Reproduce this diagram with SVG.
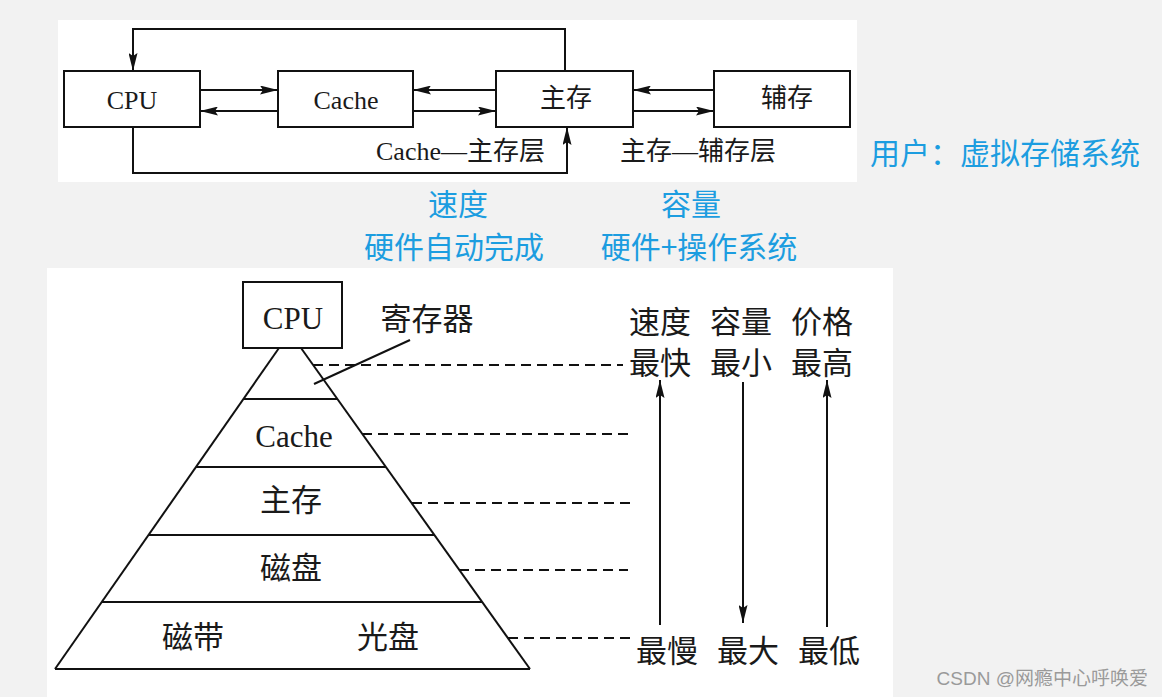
<svg xmlns="http://www.w3.org/2000/svg" width="1162" height="697" viewBox="0 0 1162 697">
<defs>
<marker id="ah" viewBox="0 0 18 9" refX="18" refY="4.5" markerWidth="18" markerHeight="9" markerUnits="userSpaceOnUse" orient="auto">
<path d="M0,0 L18,4.5 L0,9 L3,4.5 z" fill="#111"/>
</marker>
<style>
.box{fill:#fff;stroke:#111;stroke-width:2}
.ln{fill:none;stroke:#111;stroke-width:2}
.dash{fill:none;stroke:#111;stroke-width:2;stroke-dasharray:10 6}
.t26{font-family:"Liberation Serif","Noto Sans CJK SC",serif;font-size:26px;fill:#1a1a1a;dominant-baseline:central;text-anchor:middle}
.t31{font-family:"Liberation Serif","Noto Sans CJK SC",serif;font-size:31px;fill:#1a1a1a;dominant-baseline:central;text-anchor:middle}
.blue{font-family:"Noto Sans CJK SC","Noto Sans",sans-serif;font-size:30px;fill:#1c9de0;dominant-baseline:central;text-anchor:middle}
.wm{font-family:"Liberation Sans","Noto Sans CJK SC",sans-serif;font-size:19px;fill:#9a9a9a;dominant-baseline:central;text-anchor:end}
</style>
</defs>
<rect x="0" y="0" width="1162" height="697" fill="#f2f2f2"/>
<rect x="58" y="20" width="799" height="162" fill="#fff"/>
<rect x="47" y="268" width="846" height="429" fill="#fff"/>

<g id="connectors">
<line class="ln" x1="200" y1="90" x2="278" y2="90" marker-end="url(#ah)"/>
<line class="ln" x1="278" y1="111" x2="200" y2="111" marker-end="url(#ah)"/>
<line class="ln" x1="496" y1="90" x2="413" y2="90" marker-end="url(#ah)"/>
<line class="ln" x1="413" y1="111" x2="496" y2="111" marker-end="url(#ah)"/>
<line class="ln" x1="714" y1="90" x2="633" y2="90" marker-end="url(#ah)"/>
<line class="ln" x1="633" y1="111" x2="714" y2="111" marker-end="url(#ah)"/>
<path class="ln" d="M565,71 V29 H133 V71" marker-end="url(#ah)"/>
<path class="ln" d="M133,127 V173 H567 V127" marker-end="url(#ah)"/>
<line class="dash" x1="313" y1="365" x2="623" y2="365"/>
<line class="dash" x1="362" y1="434" x2="633" y2="434"/>
<line class="dash" x1="412" y1="503" x2="632" y2="503"/>
<line class="dash" x1="459" y1="570" x2="628" y2="570"/>
<line class="dash" x1="508" y1="638" x2="633" y2="638"/>
<line class="ln" x1="410" y1="340" x2="314" y2="384"/>
<line class="ln" x1="660" y1="625" x2="660" y2="380" marker-end="url(#ah)"/>
<line class="ln" x1="743" y1="382" x2="743" y2="623" marker-end="url(#ah)"/>
<line class="ln" x1="827" y1="627" x2="827" y2="380" marker-end="url(#ah)"/>
</g>

<g id="node-cpu">
<rect class="box" x="64" y="71" width="136" height="56"/>
<text class="t26" x="132" y="100">CPU</text>
</g>
<g id="node-cache">
<rect class="box" x="278" y="71" width="135" height="56"/>
<text class="t26" x="346" y="100">Cache</text>
</g>
<g id="node-main">
<rect class="box" x="496" y="71" width="137" height="56"/>
<text class="t26" x="566" y="98">主存</text>
</g>
<g id="node-aux">
<rect class="box" x="714" y="71" width="136" height="56"/>
<text class="t26" x="787" y="98">辅存</text>
</g>
<g id="layer-labels">
<text class="t26" x="376" y="151" style="text-anchor:start">Cache—主存层</text>
<text class="t26" x="620" y="151" style="text-anchor:start">主存—辅存层</text>
</g>

<g id="notes-blue">
<text class="blue" x="1005" y="151">用户：虚拟存储系统</text>
<text class="blue" x="458" y="202">速度</text>
<text class="blue" x="691" y="202">容量</text>
<text class="blue" x="454" y="245">硬件自动完成</text>
<text class="blue" x="699" y="245">硬件+操作系统</text>
</g>

<g id="pyramid">
<line class="ln" x1="279" y1="348" x2="55" y2="669"/>
<line class="ln" x1="301" y1="348" x2="530" y2="669"/>
<line class="ln" x1="55" y1="669" x2="530" y2="669"/>
<line class="ln" x1="243" y1="399" x2="337" y2="399"/>
<line class="ln" x1="196" y1="467" x2="386" y2="467"/>
<line class="ln" x1="148" y1="535" x2="434" y2="535"/>
<line class="ln" x1="102" y1="602" x2="482" y2="602"/>
</g>
<g id="node-pcpu">
<rect class="box" x="243" y="282" width="99" height="66"/>
<text class="t31" x="293" y="318">CPU</text>
</g>
<g id="node-reg">
<text class="t31" x="427" y="319">寄存器</text>
</g>
<g id="node-pcache"><text class="t31" x="294" y="436">Cache</text></g>
<g id="node-pmain"><text class="t31" x="291" y="500">主存</text></g>
<g id="node-disk"><text class="t31" x="291" y="568">磁盘</text></g>
<g id="node-tape"><text class="t31" x="193" y="637">磁带</text></g>
<g id="node-optical"><text class="t31" x="388" y="637">光盘</text></g>

<g id="scale-labels">
<text class="t31" x="660" y="322">速度</text>
<text class="t31" x="741" y="322">容量</text>
<text class="t31" x="822" y="322">价格</text>
<text class="t31" x="660" y="363">最快</text>
<text class="t31" x="741" y="363">最小</text>
<text class="t31" x="822" y="363">最高</text>
<text class="t31" x="667" y="651">最慢</text>
<text class="t31" x="748" y="651">最大</text>
<text class="t31" x="829" y="651">最低</text>
</g>

<text class="wm" x="1148" y="678">CSDN @网瘾中心呼唤爱</text>
</svg>
